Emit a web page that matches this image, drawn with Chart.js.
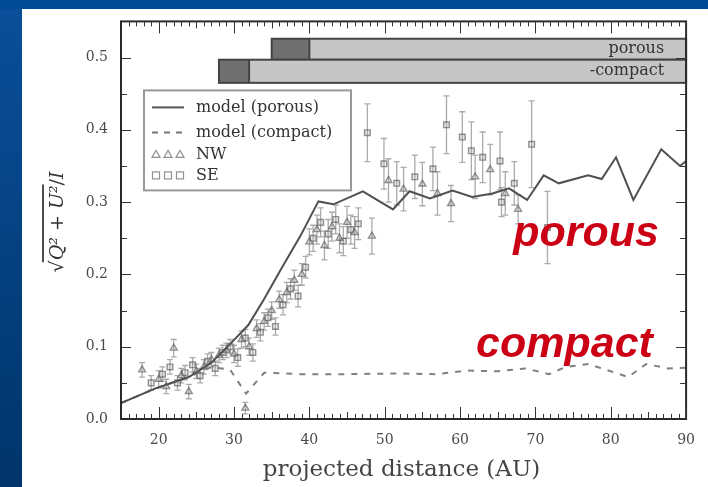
<!DOCTYPE html>
<html>
<head>
<meta charset="utf-8">
<script src="https://cdn.jsdelivr.net/npm/chart.js@4.4.1/dist/chart.umd.min.js"></script>
<style>
  html, body { margin: 0; padding: 0; background: #00478f; }
  #wrap { position: relative; width: 708px; height: 487px; }
</style>
</head>
<body>
<div id="wrap"><canvas id="chart" width="708" height="487"></canvas></div>
<script>
// Model curves (projected distance in AU, polarisation fraction)
const porousX  = [15, 19.5, 24, 27, 29.6, 31.9, 34, 36.5, 38.8, 41.2, 43.2, 47.1, 51.1, 53.3, 56, 59, 61.6, 64.3, 66.5, 68.9, 71.1, 73.1, 77, 78.8, 80.7, 83, 86.7, 89.2, 90];
const porousY  = [0.022, 0.042, 0.058, 0.078, 0.105, 0.13, 0.166, 0.212, 0.253, 0.301, 0.297, 0.315, 0.29, 0.315, 0.305, 0.316, 0.307, 0.312, 0.319, 0.303, 0.337, 0.326, 0.337, 0.332, 0.362, 0.303, 0.373, 0.35, 0.357];
const compactX = [15, 19.5, 24, 27, 29.5, 31.6, 34, 38.8, 45, 52, 57, 60.8, 65, 68.7, 71.8, 74, 77, 80.6, 82.3, 84.7, 87.6, 90];
const compactY = [0.022, 0.042, 0.058, 0.072, 0.068, 0.035, 0.064, 0.062, 0.062, 0.063, 0.062, 0.067, 0.066, 0.07, 0.062, 0.072, 0.076, 0.064, 0.058, 0.076, 0.07, 0.071];

// Measurements, north-west side
const nwX   = [17.8, 20, 21, 22, 23, 24, 25, 26, 27, 28, 29, 30, 31, 31.5, 32, 33, 34, 35, 36, 37, 38, 39, 40, 41, 42, 43, 44, 45, 46, 48.3, 50.5, 52.5, 55, 57, 58.8, 62, 64, 66, 67.7];
const nwY   = [0.068, 0.055, 0.045, 0.098, 0.060, 0.038, 0.066, 0.072, 0.082, 0.088, 0.095, 0.090, 0.110, 0.015, 0.100, 0.125, 0.135, 0.150, 0.165, 0.175, 0.192, 0.200, 0.245, 0.262, 0.240, 0.266, 0.250, 0.272, 0.258, 0.253, 0.330, 0.318, 0.325, 0.312, 0.298, 0.335, 0.345, 0.312, 0.290];
const nwErr = [0.010, 0.012, 0.010, 0.012, 0.010, 0.010, 0.010, 0.010, 0.010, 0.010, 0.010, 0.012, 0.012, 0.008, 0.012, 0.012, 0.012, 0.012, 0.012, 0.014, 0.014, 0.015, 0.018, 0.020, 0.020, 0.020, 0.020, 0.022, 0.022, 0.025, 0.030, 0.030, 0.030, 0.030, 0.025, 0.030, 0.035, 0.030, 0.020];

// Measurements, south-east side
const seX   = [19, 20.5, 21.5, 22.5, 23.5, 24.5, 25.5, 26.5, 27.5, 28.5, 29.5, 30.5, 31.5, 32.5, 33.5, 34.5, 35.5, 36.5, 37.5, 38.5, 39.5, 40.5, 41.5, 42.5, 43.5, 44.5, 45.5, 46.5, 47.7, 49.9, 51.6, 54, 56.4, 58.2, 60.3, 61.5, 63, 65.3, 65.5, 67.2, 69.5, 71.6];
const seY   = [0.050, 0.062, 0.072, 0.050, 0.064, 0.075, 0.060, 0.080, 0.070, 0.092, 0.100, 0.085, 0.112, 0.092, 0.120, 0.140, 0.128, 0.158, 0.180, 0.170, 0.210, 0.250, 0.272, 0.256, 0.276, 0.246, 0.262, 0.270, 0.396, 0.353, 0.326, 0.335, 0.346, 0.407, 0.390, 0.371, 0.362, 0.357, 0.300, 0.326, 0.380, 0.265];
const seErr = [0.010, 0.010, 0.010, 0.010, 0.010, 0.010, 0.010, 0.010, 0.010, 0.010, 0.010, 0.012, 0.012, 0.012, 0.012, 0.012, 0.012, 0.014, 0.014, 0.015, 0.015, 0.018, 0.020, 0.020, 0.020, 0.020, 0.020, 0.022, 0.040, 0.035, 0.030, 0.030, 0.030, 0.040, 0.035, 0.040, 0.035, 0.040, 0.020, 0.030, 0.060, 0.050];

// Ticks
const xTicks = [20, 30, 40, 50, 60, 70, 80, 90];
const yTicks = [0.0, 0.1, 0.2, 0.3, 0.4, 0.5];

// Regime bands drawn along the top: dark segment [start, end], band end, [yLow, yHigh]
const bandNames  = ['porous', 'compact'];
const bandDark   = [[35, 40], [28, 32]];
const bandEndX   = [90, 90];
const bandYRange = [[0.497, 0.526], [0.465, 0.497]];

const pts = (xs, ys) => xs.map((x, i) => ({ x: x, y: ys[i] }));

const SERIF = '"DejaVu Serif", "Liberation Serif", serif';

const decor = {
  id: 'decor',
  beforeDraw(chart) {
    const c = chart.ctx, W = chart.width, H = chart.height;
    c.save();
    const g = c.createLinearGradient(0, 0, 0, H);
    g.addColorStop(0, '#0a4f9a');
    g.addColorStop(1, '#00346a');
    c.fillStyle = g;
    c.fillRect(0, 0, W, H);
    c.fillStyle = '#004b96';
    c.fillRect(0, 0, W, 9);
    c.fillStyle = '#ffffff';
    c.fillRect(22, 9, W - 22, H - 9);
    c.restore();
  },
  beforeDatasetsDraw(chart) {
    // error bars under the markers
    const c = chart.ctx, ys = chart.scales.y;
    c.save();
    c.strokeStyle = 'rgba(115,115,115,0.6)';
    c.lineWidth = 1.3;
    chart.data.datasets.forEach((ds, di) => {
      if (!ds.errors) return;
      const meta = chart.getDatasetMeta(di);
      meta.data.forEach((el, i) => {
        const v = ds.data[i].y, e = ds.errors[i];
        const y1 = ys.getPixelForValue(v - e), y2 = ys.getPixelForValue(v + e);
        c.beginPath();
        c.moveTo(el.x, y1); c.lineTo(el.x, y2);
        c.moveTo(el.x - 3, y1); c.lineTo(el.x + 3, y1);
        c.moveTo(el.x - 3, y2); c.lineTo(el.x + 3, y2);
        c.stroke();
      });
    });
    c.restore();
  },
  afterDatasetsDraw(chart) {
    const c = chart.ctx, a = chart.chartArea, xs = chart.scales.x, ys = chart.scales.y;
    c.save();

    // regime bands
    for (let k = 0; k < bandNames.length; k++) {
      const xd0 = xs.getPixelForValue(bandDark[k][0]);
      const xd1 = xs.getPixelForValue(bandDark[k][1]);
      const xe  = xs.getPixelForValue(bandEndX[k]);
      const yt  = ys.getPixelForValue(bandYRange[k][1]);
      const yb  = ys.getPixelForValue(bandYRange[k][0]);
      c.fillStyle = '#c6c6c6';
      c.fillRect(xd1, yt, xe - xd1, yb - yt);
      c.fillStyle = '#6f6f6f';
      c.fillRect(xd0, yt, xd1 - xd0, yb - yt);
      c.strokeStyle = '#444';
      c.lineWidth = 2;
      c.strokeRect(xd0, yt, xe - xd0, yb - yt);
      c.beginPath(); c.moveTo(xd1, yt); c.lineTo(xd1, yb); c.stroke();
      c.fillStyle = '#333';
      c.font = '16px ' + SERIF;
      c.textAlign = 'right';
      c.textBaseline = 'middle';
      c.fillText(k === 1 ? '-' + bandNames[k] : bandNames[k], xe - 22, (yt + yb) / 2);
    }

    // frame
    c.strokeStyle = '#2a2a2a';
    c.lineWidth = 2;
    c.strokeRect(a.left, a.top, a.right - a.left, a.bottom - a.top);

    // x ticks (minor every 1 AU, major every 10)
    c.lineWidth = 1;
    c.strokeStyle = '#333';
    c.beginPath();
    for (let v = 16; v <= 90; v++) {
      const px = Math.round(xs.getPixelForValue(v)) + 0.5;
      const len = (v % 10 === 0) ? 12 : (v % 5 === 0 ? 7 : 5);
      c.moveTo(px, a.bottom); c.lineTo(px, a.bottom - len);
      c.moveTo(px, a.top); c.lineTo(px, a.top + len);
    }
    // y ticks (major 0.1, minor 0.05)
    for (let i = 1; i <= 10; i++) {
      const v = i * 0.05;
      const py = Math.round(ys.getPixelForValue(v)) + 0.5;
      const len = (i % 2 === 0) ? 10 : 6;
      c.moveTo(a.left, py); c.lineTo(a.left + len, py);
      c.moveTo(a.right, py); c.lineTo(a.right - len, py);
    }
    c.stroke();

    // legend
    const lx = a.left + 23, ly = a.top + 69, lw = 207, lh = 100;
    c.fillStyle = '#fff';
    c.fillRect(lx, ly, lw, lh);
    c.strokeStyle = '#999';
    c.lineWidth = 2;
    c.strokeRect(lx, ly, lw, lh);
    const rows = [ly + 17, ly + 42, ly + 64, ly + 85];
    const labels = ['model (porous)', 'model (compact)', 'NW', 'SE'];
    c.strokeStyle = '#555';
    c.lineWidth = 2;
    c.beginPath(); c.moveTo(lx + 8, rows[0]); c.lineTo(lx + 40, rows[0]); c.stroke();
    c.strokeStyle = '#777';
    c.setLineDash([6, 6]);
    c.beginPath(); c.moveTo(lx + 8, rows[1]); c.lineTo(lx + 42, rows[1]); c.stroke();
    c.setLineDash([]);
    c.strokeStyle = 'rgba(100,100,100,0.7)';
    c.lineWidth = 1.2;
    for (let j = 0; j < 3; j++) {
      const cx = lx + 12 + j * 12;
      c.beginPath();
      c.moveTo(cx, rows[2] - 4); c.lineTo(cx + 4, rows[2] + 3); c.lineTo(cx - 4, rows[2] + 3); c.closePath();
      c.stroke();
      c.strokeRect(cx - 3.5, rows[3] - 3.5, 7, 7);
    }
    c.fillStyle = '#333';
    c.font = '16px ' + SERIF;
    c.textAlign = 'left';
    c.textBaseline = 'middle';
    labels.forEach((t, i) => c.fillText(t, lx + 52, rows[i]));

    // x axis title
    c.fillStyle = '#444';
    c.font = '23px ' + SERIF;
    c.textAlign = 'center';
    c.textBaseline = 'middle';
    c.fillText('projected distance (AU)', (a.left + a.right) / 2 - 2, a.bottom + 51);

    // y axis title: sqrt(Q^2 + U^2)/I with an overline
    c.save();
    c.translate(58, 222);
    c.rotate(-Math.PI / 2);
    const fN = '19px ' + SERIF, fI = 'italic 19px ' + SERIF;
    const parts = [['\u221A', fN], ['Q\u00B2', fI], [' + ', fN], ['U\u00B2', fI], ['/', fN], ['I', fI]];
    let total = 0;
    const widths = parts.map(p => { c.font = p[1]; const w = c.measureText(p[0]).width; total += w; return w; });
    let x = -total / 2;
    let olStart = 0, olEnd = 0;
    c.fillStyle = '#333';
    c.textAlign = 'left';
    c.textBaseline = 'middle';
    parts.forEach((p, i) => {
      if (i === 1) olStart = x;
      c.font = p[1];
      c.fillText(p[0], x, 0);
      x += widths[i];
      if (i === 3) olEnd = x;
    });
    c.strokeStyle = '#222';
    c.lineWidth = 1.6;
    c.beginPath(); c.moveTo(olStart - 2, -15); c.lineTo(olEnd + 1, -15); c.stroke();
    c.restore();

    // regime annotations
    c.fillStyle = '#cc0014';
    c.font = 'italic bold 43px "Liberation Sans", Arial, sans-serif';
    c.textAlign = 'right';
    c.textBaseline = 'alphabetic';
    c.fillText('porous', xs.getPixelForValue(86.4), ys.getPixelForValue(0.240));
    c.fillText('compact', xs.getPixelForValue(85.6), ys.getPixelForValue(0.086));

    c.restore();
  }
};

new Chart(document.getElementById('chart'), {
  type: 'scatter',
  data: {
    datasets: [
      { label: 'model (porous)', data: pts(porousX, porousY), showLine: true, pointRadius: 0,
        borderColor: '#505050', borderWidth: 2, fill: false },
      { label: 'model (compact)', data: pts(compactX, compactY), showLine: true, pointRadius: 0,
        borderColor: '#808080', borderWidth: 2, borderDash: [6, 7], fill: false },
      { label: 'NW', data: pts(nwX, nwY), errors: nwErr, pointStyle: 'triangle', pointRadius: 4,
        borderColor: 'rgba(90,90,90,0.65)', backgroundColor: 'rgba(170,170,170,0.25)', borderWidth: 1.4 },
      { label: 'SE', data: pts(seX, seY), errors: seErr, pointStyle: 'rect', pointRadius: 4,
        borderColor: 'rgba(90,90,90,0.65)', backgroundColor: 'rgba(170,170,170,0.25)', borderWidth: 1.4 }
    ]
  },
  options: {
    responsive: false,
    devicePixelRatio: 1,
    animation: false,
    layout: { padding: { left: 0, right: 17, top: 14, bottom: 0 } },
    plugins: { legend: { display: false }, tooltip: { enabled: false }, title: { display: false } },
    scales: {
      x: {
        type: 'linear', min: 15, max: 90,
        grid: { display: false, drawTicks: false },
        border: { display: false },
        afterBuildTicks: s => { s.ticks = xTicks.map(v => ({ value: v })); },
        afterFit: s => { s.height = 68; },
        ticks: { padding: 13, color: '#4a4a4a', font: { family: SERIF, size: 14 } }
      },
      y: {
        type: 'linear', min: 0, max: 0.55,
        grid: { display: false, drawTicks: false },
        border: { display: false },
        afterBuildTicks: s => { s.ticks = yTicks.map(v => ({ value: v })); },
        afterFit: s => { s.width = 121; },
        ticks: { padding: 13, color: '#4a4a4a', font: { family: SERIF, size: 14 },
                 callback: v => Number(v).toFixed(1) }
      }
    }
  },
  plugins: [decor]
});
</script>
</body>
</html>
